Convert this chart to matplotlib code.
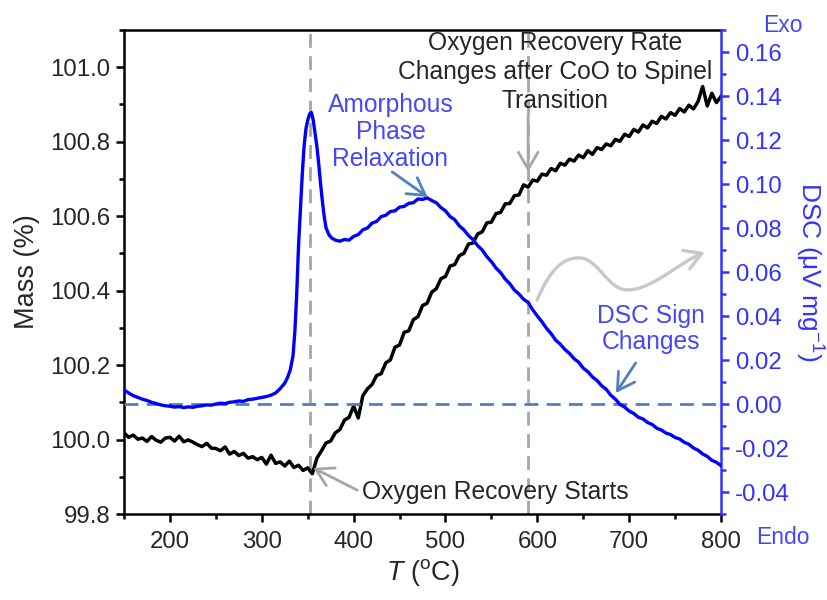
import matplotlib
matplotlib.use("Agg")
import matplotlib.pyplot as plt
from matplotlib.ticker import MultipleLocator, FormatStrFormatter
from matplotlib.patches import FancyArrowPatch
from matplotlib.path import Path

plt.rcParams['font.family'] = ['Liberation Sans', 'DejaVu Sans']
plt.rcParams['mathtext.fontset'] = 'custom'
plt.rcParams['mathtext.rm'] = 'Liberation Sans'
plt.rcParams['mathtext.it'] = 'Liberation Sans:italic'
plt.rcParams['axes.unicode_minus'] = False

# ---- TGA mass trace (temperature in degC, mass in %) ----
temp_mass = list(range(150, 805, 5))
mass = [
    100.018, 100.006, 100.012, 100.001, 100.004, 99.995, 100.008, 99.998, 99.993, 100.004,
    100.006, 99.996, 100.009, 99.994, 99.999, 99.993, 99.986, 99.981, 99.990, 99.977,
    99.976, 99.970, 99.980, 99.961, 99.968, 99.957, 99.963, 99.950, 99.954, 99.946,
    99.952, 99.934, 99.958, 99.936, 99.940, 99.929, 99.942, 99.925, 99.931, 99.917,
    99.924, 99.908, 99.950, 99.970, 99.991, 99.996, 100.018, 100.027, 100.052, 100.060,
    100.090, 100.058, 100.118, 100.136, 100.148, 100.172, 100.177, 100.206, 100.214, 100.248,
    100.254, 100.288, 100.292, 100.322, 100.330, 100.360, 100.366, 100.396, 100.405, 100.432,
    100.438, 100.466, 100.470, 100.494, 100.500, 100.525, 100.528, 100.552, 100.558, 100.582,
    100.584, 100.607, 100.610, 100.633, 100.634, 100.655, 100.657, 100.684, 100.678, 100.697,
    100.694, 100.713, 100.710, 100.728, 100.722, 100.742, 100.737, 100.753, 100.748, 100.764,
    100.757, 100.776, 100.766, 100.784, 100.779, 100.794, 100.789, 100.806, 100.801, 100.820,
    100.814, 100.833, 100.826, 100.845, 100.837, 100.855, 100.849, 100.868, 100.861, 100.878,
    100.871, 100.889, 100.880, 100.898, 100.888, 100.908, 100.948, 100.896, 100.930, 100.905,
    100.922,
]

# ---- DSC trace (temperature in degC, heat flow in uV/mg) ----
temp_dsc = (list(range(150, 325, 5))
            + [325, 328, 331, 334, 336, 338, 340, 342, 344, 346, 348, 350, 352, 354,
               356, 358, 360, 362, 364, 366, 368, 370, 373, 376, 380]
            + list(range(385, 805, 5)))
dsc = (
    [0.0064, 0.0050, 0.0038, 0.0030, 0.0022, 0.0016, 0.0008, 0.0002, -0.0004, -0.0008,
     -0.0010, -0.0014, -0.0012, -0.0016, -0.0013, -0.0015, -0.0010, -0.0008, -0.0004, -0.0005,
     0.0000, 0.0004, 0.0002, 0.0008, 0.0010, 0.0014, 0.0012, 0.0020, 0.0022, 0.0026,
     0.0030, 0.0034, 0.0040, 0.0050, 0.0070]
    + [0.0095, 0.0120, 0.0155, 0.0220, 0.0330, 0.0500, 0.0720, 0.0880, 0.1040, 0.1170,
       0.1250, 0.1290, 0.1318, 0.1325, 0.1290, 0.1230, 0.1170, 0.1090, 0.1000, 0.0920,
       0.0850, 0.0800, 0.0770, 0.0755, 0.0745]
    + [0.0740, 0.0748, 0.0745, 0.0762, 0.0770, 0.0792, 0.0800, 0.0822, 0.0830, 0.0852,
       0.0858, 0.0875, 0.0878, 0.0895, 0.0898, 0.0912, 0.0915, 0.0932, 0.0930, 0.0937,
       0.0925, 0.0915, 0.0893, 0.0878, 0.0852, 0.0838, 0.0810, 0.0792, 0.0766, 0.0747,
       0.0720, 0.0700, 0.0670, 0.0647, 0.0618, 0.0597, 0.0568, 0.0547, 0.0518, 0.0500,
       0.0476, 0.0462, 0.0428, 0.0400, 0.0374, 0.0344, 0.0320, 0.0290, 0.0272, 0.0248,
       0.0230, 0.0206, 0.0190, 0.0163, 0.0147, 0.0123, 0.0107, 0.0083, 0.0067, 0.0040,
       0.0022, -0.0002, -0.0014, -0.0032, -0.0043, -0.0060, -0.0068, -0.0084, -0.0093, -0.0110,
       -0.0118, -0.0132, -0.0139, -0.0152, -0.0159, -0.0174, -0.0183, -0.0200, -0.0210, -0.0227,
       -0.0238, -0.0256, -0.0265, -0.0280]
)

# reference markers
onset_temp = 353
transition_temp = 590

BLACK_TEXT = '#262626'
CURVE_BLUE = '#0000ff'
AXIS_BLUE = '#3333ff'
TEXT_BLUE = '#4646ff'
ARROW_BLUE = '#4f81bd'
GRAY = '#a6a6a6'

fig = plt.figure(figsize=(8.28, 6.0), dpi=100)
ax = fig.add_axes([0.1498, 0.1433, 0.7210, 0.8067])
ax2 = ax.twinx()

# guide lines
for t in (onset_temp, transition_temp):
    ax.axvline(t, color=GRAY, lw=2, ls=(0, (5, 3)), zorder=1)
ax2.axhline(0.0, color=ARROW_BLUE, lw=2, ls=(0, (5, 3)), zorder=1)

ax.plot(temp_mass, mass, color='black', lw=2.5, zorder=3)
ax2.plot(temp_dsc, dsc, color=CURVE_BLUE, lw=2.4, zorder=3)

# axes ranges and ticks
ax.set_xlim(150, 800)
ax.set_ylim(99.8, 101.1)
ax2.set_ylim(-0.05, 0.17)
ax.xaxis.set_major_locator(MultipleLocator(100))
ax.xaxis.set_minor_locator(MultipleLocator(50))
ax.yaxis.set_major_locator(MultipleLocator(0.2))
ax.yaxis.set_minor_locator(MultipleLocator(0.1))
ax.yaxis.set_major_formatter(FormatStrFormatter('%.1f'))
ax2.yaxis.set_major_locator(MultipleLocator(0.02))
ax2.yaxis.set_minor_locator(MultipleLocator(0.01))
ax2.yaxis.set_major_formatter(FormatStrFormatter('%.2f'))

for sp in ('left', 'bottom', 'top'):
    ax.spines[sp].set_linewidth(1.8)
ax.spines['right'].set_visible(False)
for sp in ('left', 'bottom', 'top'):
    ax2.spines[sp].set_visible(False)
ax2.spines['right'].set_linewidth(1.8)
ax2.spines['right'].set_color(AXIS_BLUE)

ax.tick_params(axis='both', which='major', direction='out', length=6, width=1.8,
               labelsize=17.3, labelcolor=BLACK_TEXT, pad=4)
ax.tick_params(axis='both', which='minor', direction='out', length=3.5, width=1.8)
ax.tick_params(axis='x', which='major', pad=6)
ax.tick_params(top=False, which='both')
ax2.tick_params(axis='y', which='major', direction='out', length=6, width=1.8,
                color=AXIS_BLUE, labelcolor=AXIS_BLUE, labelsize=17.3, pad=4)
ax2.tick_params(axis='y', which='minor', direction='out', length=3.5, width=1.8,
                color=AXIS_BLUE)

ax.set_xlabel(r'$T$ ($^{\mathrm{o}}$C)', fontsize=19.5, color=BLACK_TEXT, labelpad=3)
ax.set_ylabel('Mass (%)', fontsize=19.5, color=BLACK_TEXT, labelpad=7)
ax2.set_ylabel(r'DSC (μV mg$^{-1}$)', fontsize=19, color=AXIS_BLUE,
               rotation=270, va='bottom', labelpad=2)

ax.text(1.104, 1.010, 'Exo', transform=ax.transAxes, ha='center', va='center',
        fontsize=16.5, color=TEXT_BLUE)
ax.text(1.104, -0.0475, 'Endo', transform=ax.transAxes, ha='center', va='center',
        fontsize=16.5, color=TEXT_BLUE)

# annotations
head = '->,head_length=0.55,head_width=0.32'
rate_lines = ['Oxygen Recovery Rate', 'Changes after CoO to Spinel', 'Transition']
for line, y in zip(rate_lines, (101.065, 100.987, 100.909)):
    ax.text(619, y, line, ha='center', va='center', fontsize=17.7,
            color=BLACK_TEXT, zorder=5)
ax.annotate('', xy=(transition_temp, 100.719), xytext=(transition_temp, 100.872),
            arrowprops=dict(arrowstyle=head, color=GRAY, lw=2, mutation_scale=22,
                            shrinkA=0, shrinkB=0), zorder=5)

ax2.text(440, 0.1236, 'Amorphous\nPhase\nRelaxation', ha='center', va='center',
         fontsize=17.7, color=TEXT_BLUE, linespacing=1.15)
ax2.annotate('', xy=(480.5, 0.0941), xytext=(442, 0.1055),
             arrowprops=dict(arrowstyle=head, color=ARROW_BLUE, lw=2, mutation_scale=22,
                             shrinkA=0, shrinkB=0))

ax2.text(723.7, 0.0341, 'DSC Sign\nChanges', ha='center', va='center',
         fontsize=17.7, color=TEXT_BLUE, linespacing=1.15)
ax2.annotate('', xy=(685.5, 0.005), xytext=(707, 0.0186),
             arrowprops=dict(arrowstyle=head, color=ARROW_BLUE, lw=2, mutation_scale=22,
                             shrinkA=0, shrinkB=0))

ax.text(409.6, 99.859, 'Oxygen Recovery Starts', ha='left', va='center',
        fontsize=17.7, color=BLACK_TEXT)
ax.annotate('', xy=(356, 99.924), xytext=(404, 99.864),
            arrowprops=dict(arrowstyle=head, color=GRAY, lw=2, mutation_scale=22,
                            shrinkA=0, shrinkB=0))

# wavy exotherm direction arrow
wave = Path(
    [(0.692, 0.442),
     (0.715, 0.51), (0.738, 0.531), (0.764, 0.529),
     (0.795, 0.527), (0.81, 0.463), (0.843, 0.463),
     (0.885, 0.463), (0.93, 0.52), (0.973, 0.541)],
    [Path.MOVETO, Path.CURVE4, Path.CURVE4, Path.CURVE4,
     Path.CURVE4, Path.CURVE4, Path.CURVE4,
     Path.CURVE4, Path.CURVE4, Path.CURVE4])
ax2.add_patch(FancyArrowPatch(path=wave, arrowstyle=head, mutation_scale=22,
                              color='#c8c8c8', lw=2.4, transform=ax.transAxes))

fig.savefig('out.png', dpi=100)
